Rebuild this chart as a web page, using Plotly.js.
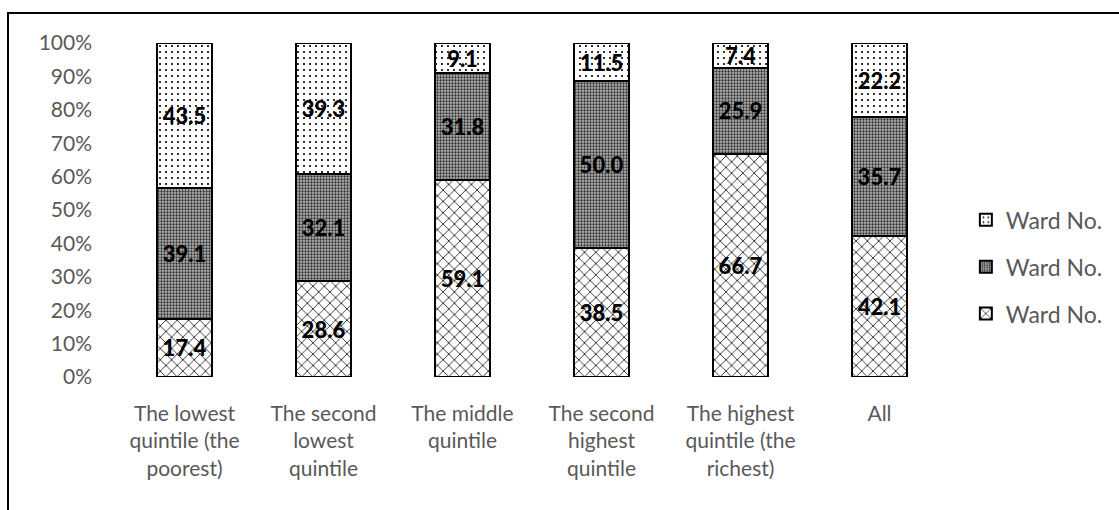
<!DOCTYPE html>
<html>
<head>
<meta charset="utf-8">
<script src="https://cdn.plot.ly/plotly-3.0.1.min.js"></script>
<style>
html,body{margin:0;padding:0;background:#fff;}
#frame{position:absolute;left:7px;top:12px;width:1130px;height:520px;border-left:2px solid #000;border-top:2px solid #000;}
#chart{position:absolute;left:0;top:0;width:1119px;height:510px;}
</style>
</head>
<body>
<div id="frame"></div>
<div id="chart"></div>
<script>
const categories = [
  "The lowest<br>quintile (the<br>poorest)",
  "The second<br>lowest<br>quintile",
  "The middle<br>quintile",
  "The second<br>highest<br>quintile",
  "The highest<br>quintile (the<br>richest)",
  "All"
];
const seriesNames = ["Ward No.", "Ward No.", "Ward No."];
const bottomValues = [17.4, 28.6, 59.1, 38.5, 66.7, 42.1];
const middleValues = [39.1, 32.1, 31.8, 50.0, 25.9, 35.7];
const topValues = [43.5, 39.3, 9.1, 11.5, 7.4, 22.2];
const yTickVals = [0,10,20,30,40,50,60,70,80,90,100];
const yTickText = ["0%","10%","20%","30%","40%","50%","60%","70%","80%","90%","100%"];

const patterns = [
  {shape: "x", size: 8, solidity: 0.18, fgcolor: "#000", bgcolor: "#fff", fillmode: "replace"},
  {shape: ".", size: 3, solidity: 0.45, fgcolor: "#303030", bgcolor: "#b4b4b4", fillmode: "replace"},
  {shape: ".", size: 6, solidity: 0.1, fgcolor: "#000", bgcolor: "#fff", fillmode: "replace"}
];
const ranks = [3, 2, 1];
const data = [bottomValues, middleValues, topValues].map((vals, i) => ({
  type: "bar",
  x: categories,
  y: vals,
  name: seriesNames[i],
  legendgroup: "g" + i,
  legendrank: ranks[i],
  text: vals.map(v => v.toFixed(1)),
  textposition: "inside",
  insidetextanchor: "middle",
  textangle: 0,
  constraintext: "none",
  textfont: {family: "Lato, sans-serif", size: 22, color: "#000", weight: 900},
  marker: {color: "#fff", line: {color: "#000", width: 2}, pattern: patterns[i]},
  hoverinfo: "none"
}));

const layout = {
  width: 1119, height: 510,
  paper_bgcolor: "rgba(0,0,0,0)", plot_bgcolor: "rgba(0,0,0,0)",
  barmode: "stack", bargap: 0.6,
  margin: {l: 115, r: 169, t: 43, b: 133},
  font: {family: "Lato, sans-serif", color: "#595959", size: 20},
  xaxis: {
    showline: false, showgrid: false, zeroline: false, ticks: "",
    tickfont: {size: 21, color: "#595959"}, ticklabelstandoff: 22
  },
  yaxis: {
    range: [0, 100], tickvals: yTickVals, ticktext: yTickText,
    showline: false, showgrid: false, zeroline: false, ticks: "",
    tickfont: {size: 21, color: "#595959"}, ticklabelstandoff: 22
  },
  legend: {
    x: 1.019, y: 0.33, xanchor: "left", yanchor: "middle",
    traceorder: "grouped", tracegroupgap: 14,
    font: {size: 23, color: "#595959"}
  },
  showlegend: true
};
Plotly.newPlot("chart", data, layout, {staticPlot: true});
</script>
</body>
</html>
